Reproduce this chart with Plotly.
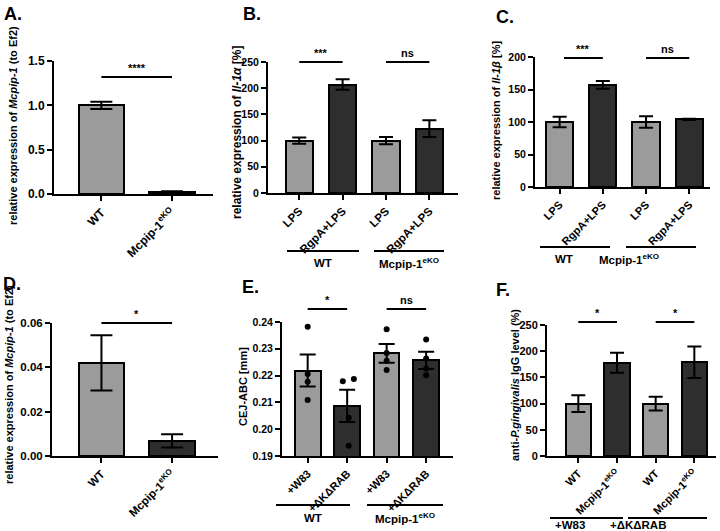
import plotly.graph_objects as go

# ---- data ----
a_groups = ["WT", "Mcpip-1<sup>eKO</sup>"]
a_means = [1.0, 0.02]
a_sem = [0.04, 0.01]

b_labels = ["LPS", "RgpA+LPS", "LPS", "RgpA+LPS"]
b_means = [100, 207, 100, 123]
b_sem = [6, 10, 7, 16]

c_labels = ["LPS", "RgpA+LPS", "LPS", "RgpA+LPS"]
c_means = [100, 157, 100, 104]
c_sem = [8, 6, 9, 1]

d_groups = ["WT", "Mcpip-1<sup>eKO</sup>"]
d_means = [0.042, 0.0068]
d_sem = [0.0125, 0.003]

e_labels = ["+W83", "+ΔKΔRAB", "+W83", "+ΔKΔRAB"]
e_means = [0.2219, 0.2087, 0.2283, 0.2257]
e_sem = [0.006, 0.006, 0.0035, 0.0032]
e_points = [
    [0.2382, 0.2206, 0.2177, 0.2109],
    [0.2179, 0.2187, 0.2043, 0.1938],
    [0.2373, 0.2284, 0.2255, 0.2221],
    [0.2335, 0.2264, 0.2226, 0.2201],
]
e_jitter = [
    [0, 0, 0, 0],
    [-0.11, 0.17, 0.04, 0.04],
    [0, 0, 0, 0],
    [0, 0, 0, 0],
]

f_labels = ["WT", "Mcpip-1<sup>eKO</sup>", "WT", "Mcpip-1<sup>eKO</sup>"]
f_means = [100, 178, 100, 179]
f_sem = [16, 19, 13, 30]

genotype_groups = ["WT", "Mcpip-1<sup>eKO</sup>"]
strain_groups = ["+W83", "+ΔKΔRAB"]

LIGHT = "#9b9b9b"
DARK = "#2e2e2e"
FONT = "Liberation Sans, Arial, sans-serif"
W, H = 720, 531


def px(x):
    return x / W


def py(y):
    return 1 - y / H


fig = go.Figure()

# panel layout (pixel boxes of the plot areas, font sizes per panel)
panels = {
    "A": dict(ax="", box=(54, 213, 61, 194), xr=[-0.67, 1.58], yr=[0, 1.5], dtick=0.5, fmt=".1f",
              cap=11, bw=0.64, yfs=12, xfs=12),
    "B": dict(ax="2", box=(268, 458, 62, 193), xr=[-0.72, 3.66], yr=[0, 250], dtick=50, fmt="d",
              cap=7, bw=0.63, yfs=10.5, xfs=11.5),
    "C": dict(ax="3", box=(535, 710, 57, 187), xr=[-0.57, 3.48], yr=[0, 200], dtick=50, fmt="d",
              cap=7, bw=0.63, yfs=10.5, xfs=11),
    "D": dict(ax="4", box=(52, 218, 323, 456), xr=[-0.70, 1.65], yr=[0, 0.06], dtick=0.02, fmt=".2f",
              cap=11, bw=0.64, yfs=11.5, xfs=11.5),
    "E": dict(ax="5", box=(282, 453, 322, 456), xr=[-0.65, 3.68], yr=[0.19, 0.24], dtick=0.01, fmt=".2f",
              cap=8, bw=0.65, yfs=10.5, xfs=11),
    "F": dict(ax="6", box=(547, 716, 325, 456), xr=[-0.81, 3.56], yr=[0, 250], dtick=50, fmt="d",
              cap=7, bw=0.65, yfs=11, xfs=11),
}

bar_data = {
    "A": (a_groups, a_means, a_sem, [LIGHT, DARK]),
    "B": (b_labels, b_means, b_sem, [LIGHT, DARK, LIGHT, DARK]),
    "C": (c_labels, c_means, c_sem, [LIGHT, DARK, LIGHT, DARK]),
    "D": (d_groups, d_means, d_sem, [LIGHT, DARK]),
    "E": (e_labels, e_means, e_sem, [LIGHT, DARK, LIGHT, DARK]),
    "F": (f_labels, f_means, f_sem, [LIGHT, DARK, LIGHT, DARK]),
}

# y titles: text, centre x px, centre y px, font size
y_titles = {
    "A": ("relative expression of <i>Mcpip-1</i> (to Ef2)", 13, 126, 11),
    "B": ("relative expression of <i>Il-1α</i> [%]", 237, 132, 12),
    "C": ("relative expression of <i>Il-1β</i> [%]", 496, 121, 11),
    "D": ("relative expression of <i>Mcpip-1</i> (to Ef2)", 9, 385, 11),
    "E": ("CEJ-ABC [mm]", 243, 387, 11),
    "F": ("anti-<i>P.gingivalis</i> IgG level (%)", 515, 385, 11),
}

letters = {"A": (2, 2), "B": (241, 2), "C": (494, 5), "D": (1, 272), "E": (240, 275), "F": (494, 278)}

# significance bars: (x0, x1, label, line y px)
sig = {
    "A": [(0, 1, "****", 77)],
    "B": [(0, 1, "***", 62), (2, 3, "ns", 62)],
    "C": [(0.1, 1, "***", 58), (2, 3, "ns", 58)],
    "D": [(0, 1, "*", 323)],
    "E": [(0, 1, "*", 309), (2, 3, "ns", 309)],
    "F": [(0, 1, "*", 322), (2, 3, "*", 322)],
}

# group bracket lines under the tick labels: (x0 px, x1 px, line y px, text y px, text)
groups = {
    "B": [(287, 359, 251, 263, genotype_groups[0]), (374, 444, 251, 263, genotype_groups[1])],
    "C": [(540, 610, 247, 259, genotype_groups[0]), (626, 696, 247, 259, genotype_groups[1])],
    "E": [(276, 350, 505, 518, genotype_groups[0]), (367, 443, 505, 518, genotype_groups[1])],
    "F": [(550, 623, 518, 525, strain_groups[0]), (628, 707, 518, 525, strain_groups[1])],
}

for key, p in panels.items():
    labels, means, sem, colors = bar_data[key]
    xs = list(range(len(labels)))
    xa, ya = "x" + p["ax"], "y" + p["ax"]
    fig.add_trace(go.Bar(
        x=xs, y=means, width=p["bw"],
        marker=dict(color=colors, line=dict(color="black", width=2)),
        error_y=dict(type="data", array=sem, color="black", thickness=2, width=p["cap"]),
        xaxis=xa, yaxis=ya, showlegend=False,
    ))
    x0, x1, y0, y1 = p["box"]
    fig.update_layout(**{
        "xaxis" + p["ax"]: dict(
            domain=[px(x0), px(x1)], anchor=ya, range=p["xr"],
            tickvals=xs, ticktext=labels, tickangle=-45,
            showline=True, linecolor="black", linewidth=2,
            ticks="outside", ticklen=5, tickwidth=2, tickcolor="black",
            tickfont=dict(family=FONT, size=p["xfs"], color="black", weight="bold"),
            showgrid=False, zeroline=False, automargin=False,
        ),
        "yaxis" + p["ax"]: dict(
            domain=[py(y1), py(y0)], anchor=xa, range=p["yr"],
            dtick=p["dtick"], tick0=p["yr"][0], tickformat=p["fmt"],
            showline=True, linecolor="black", linewidth=2,
            ticks="outside", ticklen=5, tickwidth=2, tickcolor="black",
            tickfont=dict(family=FONT, size=p["yfs"], color="black", weight="bold"),
            showgrid=False, zeroline=False, automargin=False,
        ),
    })

    title, tx, ty, tfs = y_titles[key]
    fig.add_annotation(text="<b>" + title + "</b>", x=px(tx), y=py(ty), xref="paper", yref="paper",
                       textangle=-90, showarrow=False, xanchor="center", yanchor="middle",
                       font=dict(family=FONT, size=tfs, color="black"))

    lx, ly = letters[key]
    fig.add_annotation(text="<b>" + key + ".</b>", x=px(lx), y=py(ly), xref="paper", yref="paper",
                       showarrow=False, xanchor="left", yanchor="top",
                       font=dict(family=FONT, size=18, color="black"))

    for sx0, sx1, txt, ly_px in sig[key]:
        fig.add_shape(type="line", x0=sx0, x1=sx1, y0=py(ly_px), y1=py(ly_px),
                      xref=xa, yref="paper", line=dict(color="black", width=2))
        fig.add_annotation(text="<b>" + txt + "</b>", x=(sx0 + sx1) / 2, y=py(ly_px - 1),
                           xref=xa, yref="paper", showarrow=False, yanchor="bottom",
                           font=dict(family=FONT, size=11, color="black"))

for key, items in groups.items():
    for gx0, gx1, gly, gty, txt in items:
        fig.add_shape(type="line", x0=px(gx0), x1=px(gx1), y0=py(gly), y1=py(gly),
                      xref="paper", yref="paper", line=dict(color="black", width=2))
        fig.add_annotation(text="<b>" + txt + "</b>", x=px((gx0 + gx1) / 2), y=py(gty),
                           xref="paper", yref="paper", showarrow=False, yanchor="middle",
                           font=dict(family=FONT, size=11.5, color="black"))

# individual animals in panel E
for i, (vals, jit) in enumerate(zip(e_points, e_jitter)):
    fig.add_trace(go.Scatter(
        x=[i + j for j in jit], y=vals, mode="markers",
        marker=dict(color="black", size=6),
        xaxis="x5", yaxis="y5", showlegend=False, cliponaxis=False,
    ))

fig.update_layout(
    width=W, height=H, template="none",
    margin=dict(l=0, r=0, t=0, b=0),
    paper_bgcolor="white", plot_bgcolor="white",
    bargap=0, showlegend=False,
)

# the page body has a default 8px margin; drop it so the figure sits at the window origin
fig.write_html("out.html", config={"displayModeBar": False},
               post_script="document.body.style.margin='0px';")
